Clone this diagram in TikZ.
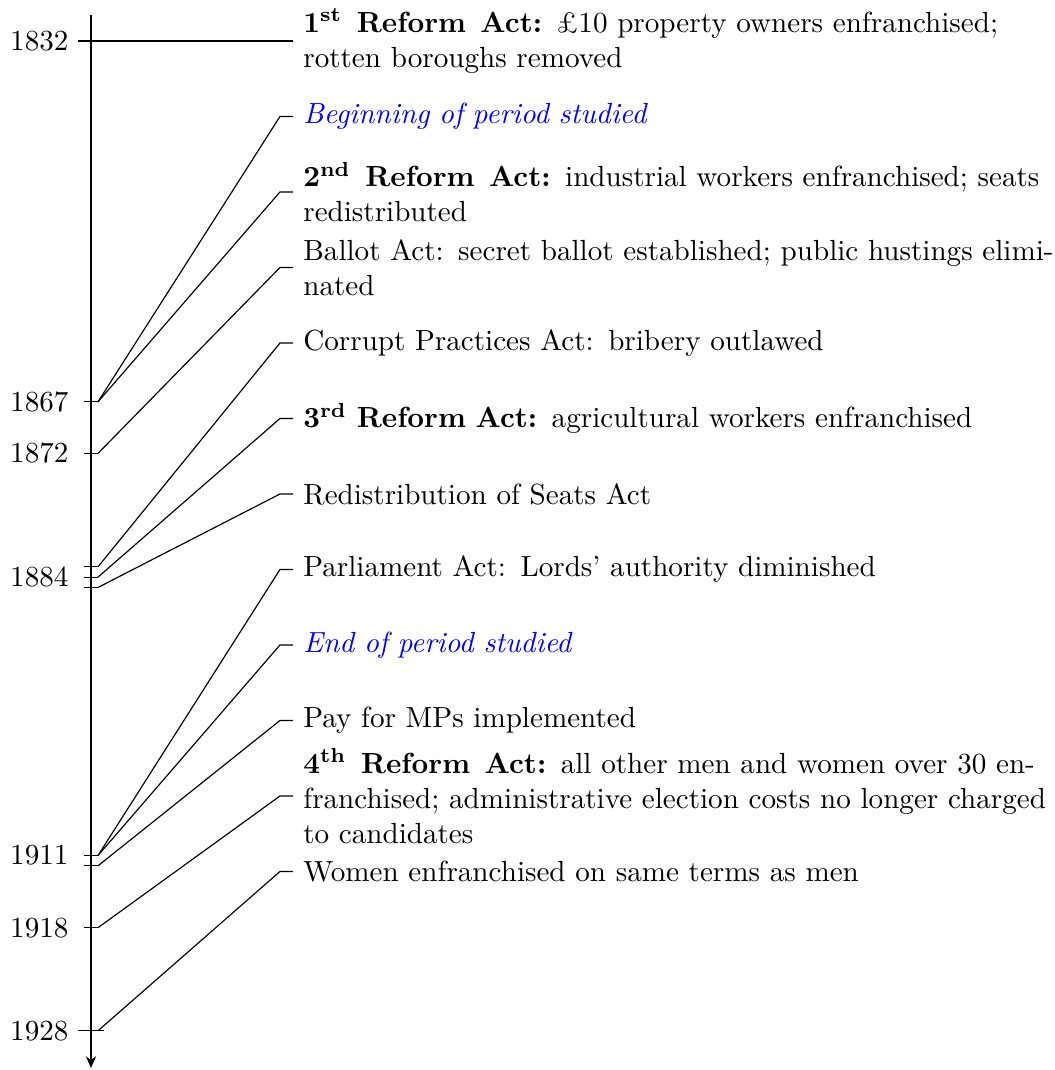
\documentclass[tikz,border=0pt]{standalone}
\usepackage{xcolor}
\usepackage{tikz}
\usetikzlibrary{arrows.meta, positioning, calc}
\hyphenation{rotten}
\tikzset{
  %% Event text beside the timeline
  evtext/.style={
    anchor=west, text width=259pt, align=left,
    inner sep=3.33pt, font=\normalsize
  },
  %% Start / end of studied period
  period/.style={evtext, text=blue, font=\normalsize\itshape},
  %% Year label left of the axis
  yearlab/.style={anchor=east, inner sep=3.33pt},
  %% Timeline axis
  axis/.style={-{Stealth[length=4pt,width=3.5pt]}, line width=0.4pt},
  %% Leader from tick to event
  lead/.style={draw=black, line width=0.4pt},
  %% Tick mark
  yrtick/.style={draw=black, line width=0.4pt},
}

\begin{document}
\begin{tikzpicture}[x=1pt, y=1pt]
  \useasboundingbox (-31.25,14.08) rectangle (331.0,-353.4);

  % year positions on the axis
  \foreach \yr in {1832,1867,1872,1883,1884,1885,1911,1912,1918,1928}
    \coordinate (y\yr) at (0,{-(\yr-1832)*3.541});
  \coordinate (top) at (0,8.93);
  \coordinate (bottom) at (0,-352.7);

  \draw[axis] (top) -- (bottom);

  \foreach \yr in {1867,1872,1883,1884,1885,1911,1912,1918}
    \draw[yrtick] ([xshift=-2.4pt]y\yr) -- ([xshift=2.4pt]y\yr);
  \foreach \yr in {1832,1928}
    \draw[yrtick] ([xshift=-4.5pt]y\yr) -- ([xshift=4.5pt]y\yr);

  \foreach \yr in {1832,1867,1872,1884,1911,1918,1928}
    \node[yearlab] (lab\yr) at ([xshift=-4.2pt]y\yr) {\yr};

  \node[evtext] (e1) at (69.4,0)
       {\textbf{1\textsuperscript{st}\enspace Reform\enspace Act:} \pounds10
        property owners enfranchised; rotten boroughs removed};
  \node[period] (e2) at (69.4,-25.93)
       {Beginning of period studied};
  \node[evtext] (e3) at (69.4,-51.86)
       {\textbf{2\textsuperscript{nd}\enspace Reform\enspace Act:} industrial
        workers enfranchised; seats redistributed};
  \node[evtext] (e4) at (69.4,-77.79)
       {Ballot Act: secret ballot established; public hustings eliminated};
  \node[evtext] (e5) at (69.4,-103.72)
       {Corrupt Practices Act: bribery outlawed};
  \node[evtext] (e6) at (69.4,-129.65)
       {\textbf{3\textsuperscript{rd} Reform Act:} agricultural workers
        enfranchised};
  \node[evtext] (e7) at (69.4,-155.58)
       {Redistribution of Seats Act};
  \node[evtext] (e8) at (69.4,-181.51)
       {Parliament Act: Lords' authority diminished};
  \node[period] (e9) at (69.4,-207.44)
       {End of period studied};
  \node[evtext] (e10) at (69.4,-233.37)
       {Pay for MPs implemented};
  \node[evtext] (e11) at (69.4,-259.30)
       {\textbf{4\textsuperscript{th}\enspace Reform\enspace Act:} all other men
        and women over 30 enfranchised; administrative election costs no
        longer charged to candidates};
  \node[evtext] (e12) at (69.4,-285.23)
       {Women enfranchised on same terms as men};

  \draw[lead] (y1832) -- (e1.west);
  \foreach \yr/\e in {1867/e2, 1867/e3, 1872/e4, 1883/e5, 1884/e6,
                      1885/e7, 1911/e8, 1911/e9, 1912/e10, 1918/e11,
                      1928/e12}
    \draw[lead] ([xshift=2.4pt]y\yr) -- ([xshift=-4.5pt]\e.west)
                -- (\e.west);

\end{tikzpicture}
\end{document}
